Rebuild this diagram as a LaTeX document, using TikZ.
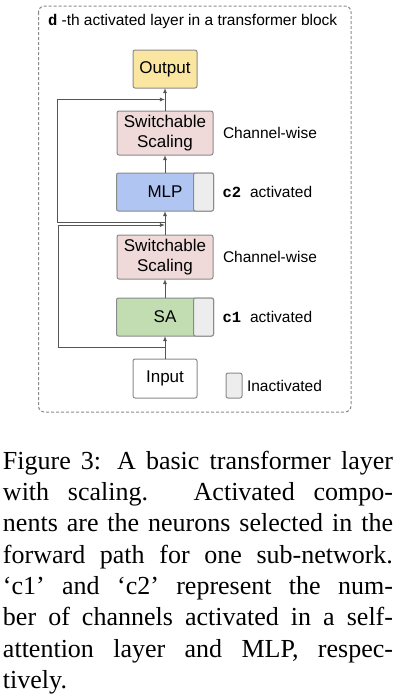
\documentclass[tikz,border=0pt]{standalone}
\usepackage{fontspec}
\setmainfont{Liberation Serif}
\newfontfamily\labelfont{Liberation Sans}
\newfontfamily\codefont{Liberation Mono}
\usepackage{tikz}
\usetikzlibrary{positioning,arrows.meta,calc}

\definecolor{boxgray}{HTML}{8A8A8A}
\definecolor{linegray}{HTML}{555555}
\definecolor{outfill}{HTML}{FAE6A0}
\definecolor{scalefill}{HTML}{EFD9D9}
\definecolor{mlpfill}{HTML}{B1C5F2}
\definecolor{safill}{HTML}{C3DDB3}
\definecolor{offfill}{HTML}{EDEDED}

\begin{document}
\begin{tikzpicture}[
    x=0.5pt, y=-0.5pt,
    every node/.style={inner sep=0pt, outer sep=0pt,
        font=\labelfont\fontsize{8.5pt}{10pt}\selectfont},
    box/.style={draw=boxgray, line width=0.5pt, rounded corners=1pt, align=center,
        minimum height=19pt},
    offpart/.style={box, fill=offfill, minimum width=10pt},
    sidetext/.style={font=\labelfont\fontsize{7.75pt}{9pt}\selectfont, anchor=west},
    flow/.style={draw=linegray, line width=0.5pt, ->},
    >={Latex[length=2.6pt,width=2.1pt]}
]

\useasboundingbox (0,0) rectangle (404,698);

% Block frame
\draw[boxgray, line width=0.5pt, dash pattern=on 1.5pt off 1pt, rounded corners=3pt]
    (38.5,6) rectangle (351,412);
\node[sidetext, anchor=base west] (title) at (48,25)
{{\codefont\bfseries d} -th activated layer in a transformer block};

% Input
\node[box, fill=white, minimum width=32pt, minimum height=19.5pt] (input) at (165,378.5) {Input};

% Self-attention
\node[box, fill=safill, minimum width=48.5pt, above=11.5pt of input] (sa) {SA};
\node[offpart, anchor=east] (saoff) at (sa.east) {};

% Scaling after SA
\node[box, fill=scalefill, minimum width=48pt, minimum height=22pt, above=9.5pt of sa] (scaleone)
{Switchable\\Scaling};

% MLP
\node[box, fill=mlpfill, minimum width=48.5pt, above=12pt of scaleone] (mlp) {MLP};
\node[offpart, anchor=east] (mlpoff) at (mlp.east) {};

% Scaling after MLP
\node[box, fill=scalefill, minimum width=48pt, minimum height=22pt, above=9pt of mlp] (scaletwo)
{Switchable\\Scaling};

% Output
\node[box, fill=outfill, minimum width=32pt, above=11.5pt of scaletwo] (output) {Output};

% Arrows
\draw[flow] (input) -- (sa);
\draw[flow] (sa) -- (scaleone);
\draw[flow] (scaleone) -- (mlp);
\draw[flow] (mlp) -- (scaletwo);
\draw[flow] (scaletwo) -- (output);

% Skip connections
\coordinate (splitone) at ($(input.north)!0.5!(sa.south)$);
\coordinate (jointwo) at ($(scaleone.north)!0.5!(mlp.south)+(0,2)$);
\coordinate (splittwo) at ($(scaleone.north)!0.5!(mlp.south)+(0,-1)$);
\coordinate (joinout) at ($(scaletwo.north)!0.5!(output.south)$);
\draw[flow] (splitone) -- ++(-107,0) |- (jointwo);
\draw[flow] (splittwo) -- ++(-108,0) |- (joinout);

% Side annotations
\node[sidetext, right=5pt of scaletwo] (notetwo) {Channel-wise};
\node[sidetext, right=4.5pt of mlp] (mlpnote)
{{\codefont\bfseries c2}\hspace{4.5pt}activated};
\node[sidetext, right=5pt of scaleone] (noteone) {Channel-wise};
\node[sidetext, right=4.5pt of sa] (sanote)
{{\codefont\bfseries c1}\hspace{4.5pt}activated};

% Legend
\node[offpart, minimum width=8pt, minimum height=12.5pt] (legend) at (234,385.5) {};
\node[sidetext, right=2.5pt of legend] (legendtext) {Inactivated};

% Caption
\node[anchor=north west, text width=195pt, align=justify,
    font=\rmfamily\fontsize{13pt}{15.65pt}\selectfont] (caption) at (3,451)
{Figure 3: A basic transformer layer\linebreak
with scaling. Activated compo-\linebreak
nents are the neurons selected in the\linebreak
forward path for one sub-network.\linebreak
`c1' and `c2' represent the num-\linebreak
ber of channels activated in a self-\linebreak
attention layer and MLP, respec-\linebreak
tively.};

\end{tikzpicture}
\end{document}
